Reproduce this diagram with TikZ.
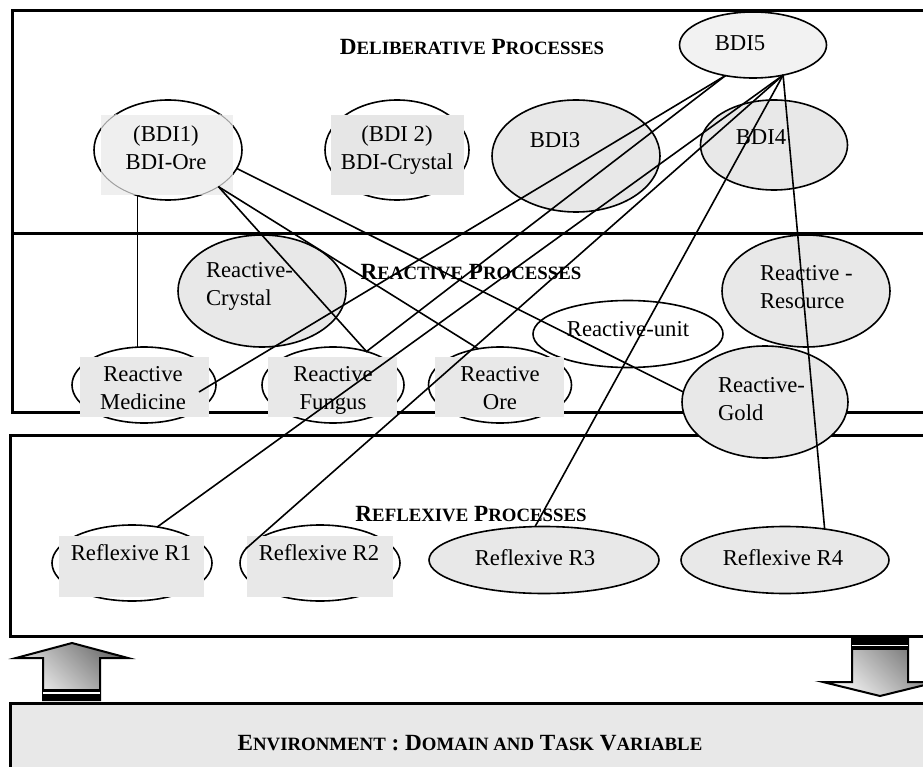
\documentclass[tikz,border=0pt]{standalone}
\usepackage{fontspec}
\setmainfont{Liberation Serif}
\usetikzlibrary{shapes.geometric,calc}

\definecolor{cellgray}{HTML}{E8E8E8}
\definecolor{palegray}{HTML}{EFEFEF}
\definecolor{midgray}{HTML}{E6E6E6}
\definecolor{bdifill}{HTML}{F2F2F2}
\definecolor{arrowdark}{HTML}{6E6E6E}
\definecolor{arrowlight}{HTML}{F6F6F6}

% fake small capitals for the layer titles
\newcommand\smc[1]{{\fontsize{18.8}{28}\selectfont #1}}
\newcommand\bodyfont{\fontsize{22.7}{28}\selectfont}
\newcommand\titlefont{\fontsize{23.2}{28}\selectfont\bfseries}

\begin{document}
\begin{tikzpicture}[x=1pt,y=-1pt,
  frame/.style={line width=3pt},
  ell/.style={ellipse, draw, line width=1.6pt, inner sep=0pt, outer sep=0pt},
  bg/.style={rectangle, draw=none, inner sep=0pt, outer sep=0pt},
  txt/.style={font=\bodyfont, inner sep=0pt, outer sep=0pt, align=center},
  ltxt/.style={font=\bodyfont, inner sep=0pt, outer sep=0pt, align=left, anchor=west},
  ttl/.style={font=\titlefont, inner sep=0pt, outer sep=0pt},
  conn/.style={line width=1.6pt},
  bigarrow/.style={line width=2pt, top color=arrowdark, bottom color=arrowlight, shading angle=-45}]
\useasboundingbox (0,0) rectangle (923,767);
\clip (0,0) rectangle (923,767);

% layer frames
\draw[frame] (12,11) rectangle (945,234);
\draw[frame] (12,234) rectangle (945,412);
\draw[frame] (10,435) rectangle (945,636);
\filldraw[frame, fill=cellgray] (10,703) rectangle (945,790);

% exchange arrows between the agent and its environment
\shadedraw[bigarrow] (16,658) -- (72,643) -- (128,658) -- (100,658) -- (100,700) -- (43,700) -- (43,658) -- cycle;
\fill (43,689) rectangle (100,700);
\fill[white] (43,692.2) rectangle (100,694);
\shadedraw[bigarrow] (852,639) -- (908,639) -- (908,682) -- (937,682) -- (880,696) -- (823,682) -- (852,682) -- cycle;
\fill (852,639) rectangle (908,650);
\fill[white] (852,644.5) rectangle (908,646);

% deliberative layer
\node[ell, fill=bdifill, minimum width=147pt, minimum height=66pt] (bdi5) at (753,45) {};
\node[ell, fill=white, minimum width=148pt, minimum height=100pt] (bdi1) at (168,150) {};
\node[bg, fill=palegray, minimum width=132pt, minimum height=80pt] (bdi1bg) at (167,155) {};
\begin{scope}
  \clip (bdi1bg.south west) rectangle (bdi1bg.north east);
  \node[ell, draw=gray!75, line width=1pt, minimum width=148pt, minimum height=100pt] (bdi1rim) at (168,150) {};
\end{scope}
\node[ell, fill=white, minimum width=144pt, minimum height=100pt] (bdi2) at (397,150) {};
\node[bg, fill=midgray, minimum width=133pt, minimum height=80pt] (bdi2bg) at (397.5,155) {};
\node[ell, fill=cellgray, minimum width=168pt, minimum height=112pt] (bdi3) at (576,156) {};
\node[ell, fill=cellgray, minimum width=147pt, minimum height=90pt] (bdi4) at (774,145) {};

% reactive layer
\node[ell, fill=cellgray, minimum width=168pt, minimum height=112pt] (crystal) at (262,291) {};
\node[ell, fill=cellgray, minimum width=168pt, minimum height=112pt] (resource) at (806,291) {};
\node[ell, fill=white, minimum width=190pt, minimum height=67pt] (unit) at (628,334) {};
\node[ell, fill=white, minimum width=144pt, minimum height=76pt] (med) at (144,385) {};
\node[bg, fill=cellgray, minimum width=129pt, minimum height=60pt] (medbg) at (144.5,387) {};
\node[ell, fill=white, minimum width=142pt, minimum height=76pt] (fungus) at (333,385) {};
\node[bg, fill=cellgray, minimum width=129pt, minimum height=60pt] (fungbg) at (332.5,387) {};
\node[ell, fill=white, minimum width=143pt, minimum height=76pt] (ore) at (500,385) {};
\node[bg, fill=cellgray, minimum width=129pt, minimum height=60pt] (orebg) at (499.5,387) {};
\node[ell, fill=cellgray, minimum width=166pt, minimum height=112pt] (gold) at (765,402) {};

% reflexive layer
\node[ell, fill=white, minimum width=160pt, minimum height=76pt] (r1) at (132,563) {};
\node[bg, fill=cellgray, minimum width=145pt, minimum height=61pt] (r1bg) at (131.5,566.5) {};
\node[ell, fill=white, minimum width=160pt, minimum height=76pt] (r2) at (320,563) {};
\node[bg, fill=cellgray, minimum width=146pt, minimum height=61pt] (r2bg) at (320,566.5) {};
\node[ell, fill=cellgray, minimum width=230pt, minimum height=67pt] (r3) at (544,560) {};
\node[ell, fill=cellgray, minimum width=208pt, minimum height=67pt] (r4) at (785,560) {};

% labels
\node[ttl] (tdel) at (472,49.4) {\strut D\smc{ELIBERATIVE} P\smc{ROCESSES}};
\node[ttl] (treac) at (471,273.7) {\strut R\smc{EACTIVE} P\smc{ROCESSES}};
\node[ttl] (trefl) at (471,516) {\strut R\smc{EFLEXIVE} P\smc{ROCESSES}};
\node[ttl] (tenv) at (470,744.4) {\strut E\smc{NVIRONMENT} : D\smc{OMAIN AND} T\smc{ASK} V\smc{ARIABLE}};

\node[txt] (bdi5t) at (740,45.4) {\strut BDI5};
\node[txt] (bdi1t) at (166,149.5) {\strut (BDI1)\\\strut BDI-Ore};
\node[txt] (bdi2t) at (397,149.5) {\strut (BDI 2)\\\strut BDI-Crystal};
\node[txt] (bdi3t) at (555,141.5) {\strut BDI3};
\node[txt] (bdi4t) at (761,138.5) {\strut BDI4};
\node[ltxt] (crystalt) at (206,285.4) {\strut Reactive-\\\strut Crystal};
\node[ltxt] (resourcet) at (760,289.3) {\strut Reactive -\\\strut Resource};
\node[txt] (unitt) at (628,331) {\strut Reactive-unit};
\node[txt] (medt) at (143,390) {\strut Reactive\\\strut Medicine};
\node[txt] (fungust) at (333,390) {\strut Reactive\\\strut Fungus};
\node[txt] (oret) at (500,390) {\strut Reactive\\\strut Ore};
\node[ltxt] (goldt) at (718,401) {\strut Reactive-\\\strut Gold};
\node[txt] (r1t) at (131,554.4) {\strut Reflexive R1};
\node[txt] (r2t) at (319,554.4) {\strut Reflexive R2};
\node[txt] (r3t) at (535,559.4) {\strut Reflexive R3};
\node[txt] (r4t) at (783,559.4) {\strut Reflexive R4};

% links between processes
\draw[conn] (bdi1.236) -- (bdi1.236 |- med.north);
\draw[conn] (bdi1.-36) -- (fungus.45) -- (bdi5.228);
\draw[conn] (bdi1.-36) -- (ore.121);
\draw[conn] (bdi1.-15) -- (gold.173);
\draw[conn] (bdi5.228) -- ($(med.center)+(55,7)$);
\draw[conn] (bdi5.-45) -- (r1.55);
\draw[conn] (bdi5.-45) -- (r2.169);
\draw[conn] (bdi5.-45) -- (r3.105);
\draw[conn] (bdi5.-45) -- (r4.38);
\end{tikzpicture}
\end{document}
